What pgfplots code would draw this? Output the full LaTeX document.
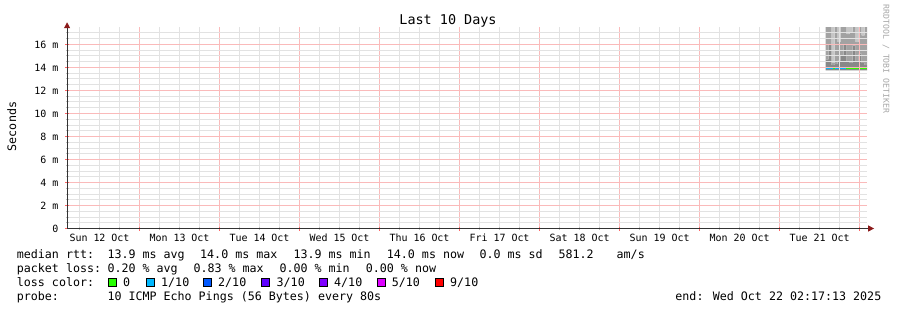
\documentclass[border=0pt]{standalone}
\usepackage{fontspec}
\setmainfont{DejaVu Sans Mono}
\usepackage{pgfplots}
\usepackage{pgfplotstable}
\pgfplotsset{compat=1.18}
\usetikzlibrary{arrows.meta}
\definecolor{majgridcol}{RGB}{250,186,186}
\definecolor{mingridcol}{RGB}{226,226,226}
\definecolor{arrowred}{HTML}{8B1A1A}
\definecolor{smkdark}{HTML}{888888}
\definecolor{smkmid}{HTML}{A2A2A2}
\definecolor{smklight}{HTML}{C6C6C6}
\definecolor{loss0}{HTML}{26FF00}
\definecolor{loss1}{HTML}{00B8FF}
\definecolor{loss2}{HTML}{0059FF}
\definecolor{loss3}{HTML}{5E00FF}
\definecolor{loss4}{HTML}{7E00FF}
\definecolor{loss5}{HTML}{DD00FF}
\definecolor{loss9}{HTML}{FF0000}
\newcommand\lgfont{\fontsize{11.7}{14}\selectfont}
\newcommand\lgt[3]{\node[anchor=base west, inner sep=0pt, font=\lgfont] at (#1,#2) {#3};}
\newcommand\lsq[2]{\node[anchor=south west, draw=black, fill=#2, minimum size=8bp, inner sep=0pt, line width=0.6bp] at (#1,23) {};}

% smoke: base, dark layer, mid layer, light layer (stacked increments, in ms)
\pgfplotstableread{
x       base   dark  mid  light
9.575   13.75  0.95  3.0  0.0
9.6125  13.75  2.25  1.7  0.0
9.65    13.75  0.45  0.2  3.3
9.6875  13.75  0.55  3.4  0.0
9.725   13.75  0.85  1.6  1.5
9.7625  13.75  1.25  2.7  0.0
9.8     13.75  2.25  1.7  0.0
9.8375  13.75  0.75  2.4  0.8
9.875   13.75  0.65  2.7  0.6
9.9125  13.75  2.15  1.8  0.0
9.95    13.75  0.75  1.7  1.5
9.9875  13.75  1.45  2.5  0.0
10.025  13.75  0.65  2.4  0.9
10.0625 13.75  0.45  3.5  0.0
10.1    13.75  0.45  3.5  0.0
}\smoke

\begin{document}
\begin{tikzpicture}[x=1bp,y=1bp]
\useasboundingbox (0,0) rectangle (897,310);
\begin{axis}[
  at={(67.1bp,81.5bp)}, anchor=south west, scale only axis,
  width=800bp, height=201.25bp,
  xmin=0.095, xmax=10.095, ymin=0, ymax=17.5,
  axis lines=left, axis on top,
  axis line style={draw=black!80, line width=1bp},
  x axis line style={-{Triangle[length=6bp,width=6bp,color=arrowred,fill=arrowred]}, shorten >=-7bp},
  y axis line style={-{Triangle[length=6bp,width=6bp,color=arrowred,fill=arrowred]}, shorten >=-5bp},
  xtick={1,2,3,4,5,6,7,8,9,10}, xticklabels={},
  minor xtick={0.25,0.5,0.75,1.25,1.5,1.75,2.25,2.5,2.75,3.25,3.5,3.75,4.25,4.5,4.75,5.25,5.5,5.75,6.25,6.5,6.75,7.25,7.5,7.75,8.25,8.5,8.75,9.25,9.5,9.75},
  ytick={0,2,4,6,8,10,12,14,16},
  yticklabels={0,2 m,4 m,6 m,8 m,10 m,12 m,14 m,16 m},
  minor ytick={0.5,1,1.5,2.5,3,3.5,4.5,5,5.5,6.5,7,7.5,8.5,9,9.5,10.5,11,11.5,12.5,13,13.5,14.5,15,15.5,16.5,17},
  xmajorgrids=true, ymajorgrids=true, xminorgrids=true, yminorgrids=true,
  major grid style={draw=majgridcol, line width=1.4bp, solid},
  minor grid style={draw=mingridcol, line width=1bp, solid},
  tick align=center, major tick length=4bp, minor tick length=3bp,
  major tick style={draw=red!60, line width=1bp},
  minor tick style={draw=black!25, line width=1bp},
  extra x ticks={0.5,1.5,2.5,3.5,4.5,5.5,6.5,7.5,8.5,9.5},
  extra x tick labels={Sun 12 Oct,Mon 13 Oct,Tue 14 Oct,Wed 15 Oct,Thu 16 Oct,Fri 17 Oct,Sat 18 Oct,Sun 19 Oct,Mon 20 Oct,Tue 21 Oct},
  extra x tick style={xmajorgrids=false, major tick length=0pt},
  tick label style={font=\fontsize{10}{12}\selectfont, inner sep=0pt},
  xticklabel style={anchor=base, yshift=-13bp},
  yticklabel style={anchor=east, xshift=-6.5bp},
]
\addplot[draw=none, const plot, stack plots=y] table[x=x, y=base] {\smoke};
\addplot[draw=none, fill=smkdark, const plot, stack plots=y] table[x=x, y=dark] {\smoke} \closedcycle;
\addplot[draw=none, fill=smkmid, const plot, stack plots=y] table[x=x, y=mid] {\smoke} \closedcycle;
\addplot[draw=none, fill=smklight, const plot, stack plots=y] table[x=x, y=light] {\smoke} \closedcycle;
% median rtt coloured by loss
\addplot[loss1, line width=2.6bp] coordinates {(9.575,13.95) (9.6625,13.95)};
\addplot[loss0, line width=2.6bp] coordinates {(9.6625,13.95) (9.69,13.95)};
\addplot[loss1, line width=2.6bp] coordinates {(9.69,13.95) (9.825,13.95)};
\addplot[loss0, line width=2.6bp] coordinates {(9.825,13.95) (10.09,13.95)};
\end{axis}

% title and labels
\node[anchor=base, inner sep=0pt, font=\fontsize{13.5}{16}\selectfont] at (448,286) {Last 10 Days};
\node[anchor=base, rotate=90, inner sep=0pt, font=\lgfont] at (16,183.5) {Seconds};
\node[rotate=-90, inner sep=0pt, font=\fontsize{8.2}{10}\selectfont, text=black!35] at (886,251) {RRDTOOL / TOBI OETIKER};

% legend lines
\lgt{16.7}{52}{median rtt:}
\lgt{107.3}{52}{13.9 ms avg}
\lgt{200}{52}{14.0 ms max}
\lgt{293.3}{52}{13.9 ms min}
\lgt{386.7}{52}{14.0 ms now}
\lgt{479.3}{52}{0.0 ms sd}
\lgt{558.3}{52}{581.2}
\lgt{616.5}{52}{am/s}

\lgt{16.7}{38}{packet loss:}
\lgt{107.3}{38}{0.20 \% avg}
\lgt{193.3}{38}{0.83 \% max}
\lgt{279.3}{38}{0.00 \% min}
\lgt{365.7}{38}{0.00 \% now}

\lgt{16.7}{24}{loss color:}
\lsq{108}{loss0}\lgt{123}{24}{0}
\lsq{146}{loss1}\lgt{161}{24}{1/10}
\lsq{203}{loss2}\lgt{218}{24}{2/10}
\lsq{261}{loss3}\lgt{276.5}{24}{3/10}
\lsq{319}{loss4}\lgt{334}{24}{4/10}
\lsq{377}{loss5}\lgt{391.7}{24}{5/10}
\lsq{435}{loss9}\lgt{450}{24}{9/10}

\lgt{16.7}{10}{probe:}
\lgt{107.3}{10}{10 ICMP Echo Pings (56 Bytes) every 80s}
\node[anchor=base east, inner sep=0pt, font=\lgfont] at (881.5,10) {end: Wed Oct 22 02:17:13 2025};
\end{tikzpicture}
\end{document}
